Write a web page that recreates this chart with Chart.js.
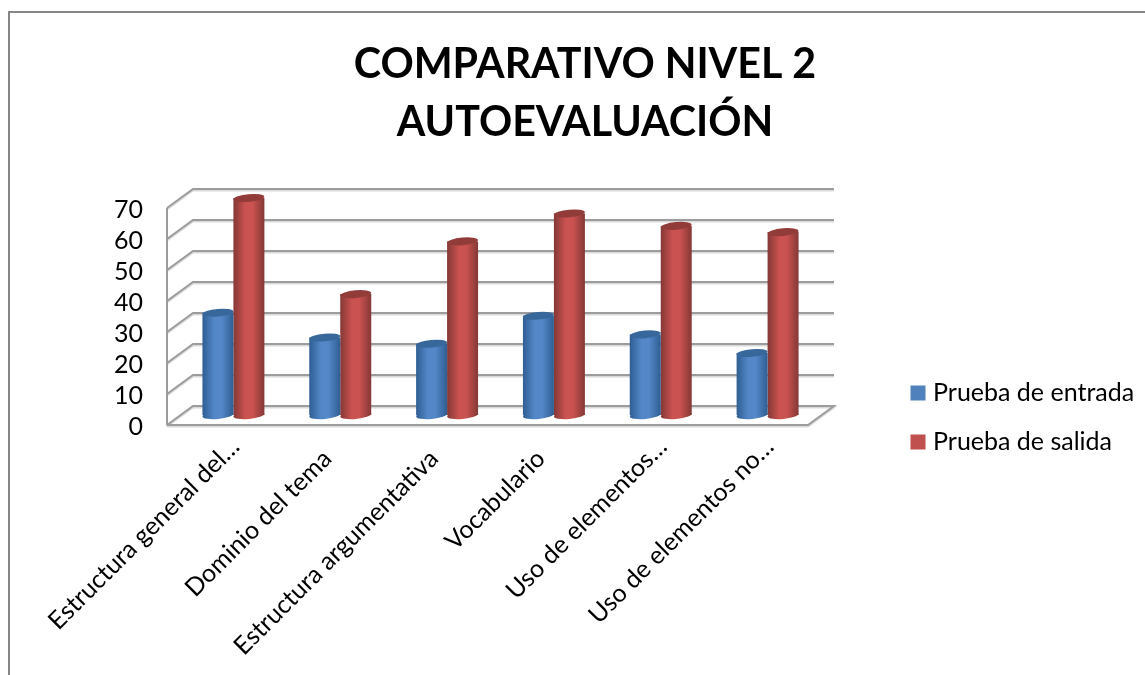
<!DOCTYPE html>
<html><head><meta charset="utf-8">
<style>html,body{margin:0;padding:0;background:#fff;overflow:hidden}canvas{display:block}</style>
<script src="https://cdn.jsdelivr.net/npm/chart.js@4"></script>
</head><body><canvas id="c" width="1145" height="675"></canvas>
<script>
const categories = ["Estructura general del…","Dominio del tema","Estructura argumentativa","Vocabulario","Uso de elementos…","Uso de elementos no…"];
const entrada = [33,25,23,32,26,20];
const salida = [70,39,56,65,61,59];
const seriesNames = ["Prueba de entrada","Prueba de salida"];
const titleLines = ["COMPARATIVO NIVEL 2","AUTOEVALUACIÓN"];
const FONT = "Lato";
const legendColors = ["#4f81bd","#c0504d"];
const shades = [
  {edge:"#2f5e92",mid:"#5387c8",cap:"#38689b"},
  {edge:"#843836",mid:"#ca5250",cap:"#923c3a"}
];
const barFrac = 0.58;
function stops(g,s){
  g.addColorStop(0,s.edge); g.addColorStop(.38,s.mid); g.addColorStop(.62,s.mid); g.addColorStop(1,s.edge);
  return g;
}
function barGradient(ctx){
  const chart = ctx.chart, sc = chart.scales.x;
  const s = shades[ctx.datasetIndex];
  if(!sc || !chart.chartArea || ctx.dataIndex===undefined) return s.mid;
  const step = sc.getPixelForValue(1)-sc.getPixelForValue(0);
  const w = step*barFrac/2, c = sc.getPixelForValue(ctx.dataIndex);
  const l = ctx.datasetIndex===0 ? c-w : c;
  return stops(chart.ctx.createLinearGradient(l,0,l+w,0),s);
}
const scene = {
  id:"scene",
  beforeDraw(chart){
    const c = chart.ctx; c.save();
    c.strokeStyle="#868686"; c.lineWidth=2;
    c.beginPath(); c.moveTo(9,675); c.lineTo(9,12); c.lineTo(1145,12); c.stroke();
    c.restore();
  },
  beforeDatasetsDraw(chart){
    const c = chart.ctx, y = chart.scales.y, a = chart.chartArea;
    const fx = a.left-13, bx = a.left+13, fxr = a.right-13, bxr = a.right+13, dyB=-9, dyF=10;
    const draw = (color,w,off)=>{
      c.strokeStyle=color; c.lineWidth=w; c.lineJoin="miter";
      y.ticks.forEach(t=>{
        const p = y.getPixelForValue(t.value)+off;
        c.beginPath(); c.moveTo(fx,p+dyF); c.lineTo(bx,p+dyB); c.lineTo(bxr,p+dyB);
        if(t.value===0){ c.lineTo(fxr,p+dyF); c.lineTo(fx,p+dyF); }
        c.stroke();
      });
      c.beginPath(); c.moveTo(fx,y.getPixelForValue(70)+dyF+off); c.lineTo(fx,y.getPixelForValue(0)+dyF+off); c.stroke();
    };
    c.save();
    draw("#d9d9d9",2,1.5);
    draw("#9c9c9c",2,0);
    c.restore();
  },
  afterDatasetDraw(chart,args){
    const c = chart.ctx, s = shades[args.index], base = chart.scales.y.getPixelForValue(0);
    args.meta.data.forEach(el=>{
      const w = el.width/2, rot=-0.09;
      const g = stops(c.createLinearGradient(el.x-w,0,el.x+w,0),s);
      c.save();
      c.fillStyle=g; c.beginPath(); c.ellipse(el.x,base,w,4,rot,0,Math.PI*2); c.fill();
      c.fillStyle=s.cap; c.beginPath(); c.ellipse(el.x,el.y,w,3.8,rot,0,Math.PI*2); c.fill();
      c.restore();
    });
  },
  afterLayout(chart){
    const l = chart.legend;
    l.left=891.5; l.top=356.5; l.right=1145; l.bottom=660;
    chart.titleBlock.left=25; chart.titleBlock.right=1145;
    chart.scales.x.getLabelItems(chart.chartArea).forEach(it=>{
      if(String(it.label).endsWith("…")){ it.options.translation[0]+=15; it.options.translation[1]-=12; }
    });
  }
};
new Chart(document.getElementById("c"),{
  type:"bar",
  plugins:[scene],
  data:{labels:categories,datasets:[
    {label:seriesNames[0],data:entrada,backgroundColor:barGradient,categoryPercentage:barFrac,barPercentage:1},
    {label:seriesNames[1],data:salida,backgroundColor:barGradient,categoryPercentage:barFrac,barPercentage:1}
  ]},
  options:{
    responsive:false,animation:false,
    layout:{padding:{left:25,right:324,top:0,bottom:0}},
    plugins:{
      tooltip:{enabled:false},
      title:{display:true,text:titleLines,color:"#000",font:{family:FONT,size:41.2,weight:"bold",lineHeight:58/41.2},padding:{top:35.5,bottom:46.5}},
      legend:{position:"chartArea",align:"start",labels:{
        font:{family:FONT,size:25},color:"#000",boxWidth:5,boxHeight:5,padding:24,
        generateLabels:(ch)=>ch.data.datasets.map((d,i)=>({text:d.label,fillStyle:legendColors[i],strokeStyle:legendColors[i],lineWidth:10,hidden:false,datasetIndex:i}))
      }}
    },
    scales:{
      x:{
        grid:{display:false,drawTicks:false},border:{display:false},
        afterFit:s=>{s.height=260},
        ticks:{autoSkip:false,minRotation:45,maxRotation:45,color:"#000",font:{family:FONT,size:25},padding:29,labelOffset:-13}
      },
      y:{
        min:0,max:70,
        grid:{display:false,drawTicks:false},border:{display:false},
        afterFit:s=>{s.width=155},
        ticks:{autoSkip:false,stepSize:10,color:"#000",font:{family:FONT,size:25},padding:37,labelOffset:11.5}
      }
    }
  }
});
</script></body></html>
